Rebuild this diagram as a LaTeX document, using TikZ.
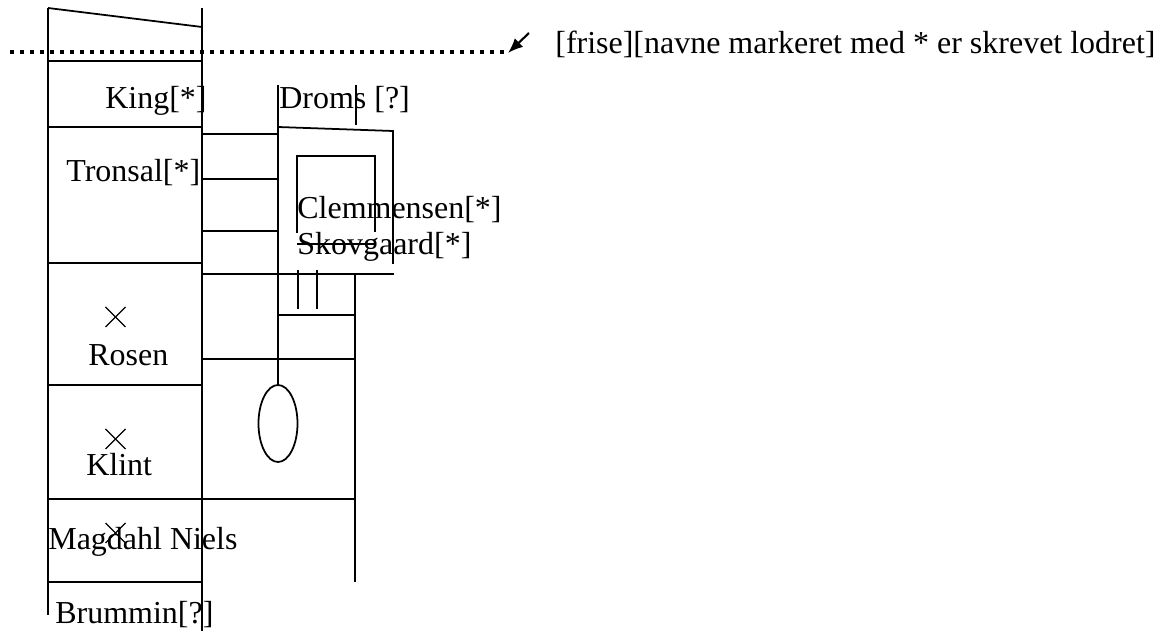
\documentclass[tikz,border=0pt]{standalone}
\usepackage{fontspec}
\setmainfont{Liberation Serif}
\usetikzlibrary{arrows.meta}
\definecolor{ink}{HTML}{000000}
\tikzset{
  line/.style={draw=ink, line width=1pt},
  thin/.style={draw=ink, line width=0.7pt},
  frise/.style={draw=ink, line width=2.8pt, dash pattern=on 0.09cm off 0.11cm},
  lbl/.style={text=ink, font=\fontsize{18.2}{21}\selectfont, inner sep=0pt, anchor=base west}
}

\begin{document}
\begin{tikzpicture}[x=0.02cm, y=-0.02cm]
  \useasboundingbox (0,0) rectangle (1167,631);

  % left column
  \draw[line] (48,8) -- (48,615);
  \draw[line] (202,8) -- (202,631);
  \draw[line] (48,8) -- (202,27);
  \foreach \y in {61,127,263,385,582}
    \draw[line] (48,\y) -- (202,\y);
  \draw[line] (48,499) -- (355,499);

  % frise with arrow
  \draw[frise] (10,52) -- (508,52);
  \coordinate (tail) at (529,33);
  \coordinate (tip) at (508,53);
  \draw[line, line width=1.2pt, -{Latex[length=0.3cm, width=0.24cm]}] (tail) -- (tip);

  % right part
  \draw[line] (278,85) -- (278,385);
  \draw[line] (356,85) -- (356,125);
  \draw[line] (278,127) -- (393,131) -- (393,264);
  \foreach \y in {134,179,231}
    \draw[line] (202,\y) -- (278,\y);
  \draw[line] (202,274) -- (394,274);
  \draw[line] (297,233) -- (297,156) -- (375,156) -- (375,232);
  \draw[line] (297,244) -- (375,244);
  \draw[line] (298,270) -- (298,309);
  \draw[line] (317,270) -- (317,309);
  \draw[line] (278,315) -- (355,315);
  \draw[line] (355,275) -- (355,582);
  \draw[line] (202,359) -- (355,359);
  \draw[line] (278,423.5) ellipse [x radius=19.5, y radius=38.5];

  % crosses
  \foreach \y in {317,439,533} {
    \draw[thin] (105.5,\y-10) -- (125.5,\y+10);
    \draw[thin] (105.5,\y+10) -- (125.5,\y-10);
  }

  \node[lbl] (king) at (105,109) {King[*]};
  \node[lbl] (droms) at (279,109) {Droms [?]};
  \node[lbl] (tronsal) at (66,182) {Tronsal[*]};
  \node[lbl] (clemmensen) at (297,219) {Clemmensen[*]};
  \node[lbl] (skovgaard) at (297,255) {Skovgaard[*]};
  \node[lbl] (rosen) at (88,366) {Rosen};
  \node[lbl] (klint) at (86,476) {Klint};
  \node[lbl] (magdahl) at (48,549) {Magdahl Niels};
  \node[lbl] (brummin) at (55,623) {Brummin[?]};
  \node[lbl] (note) at (555,54) {[frise][navne markeret med * er skrevet lodret]};
\end{tikzpicture}
\end{document}
